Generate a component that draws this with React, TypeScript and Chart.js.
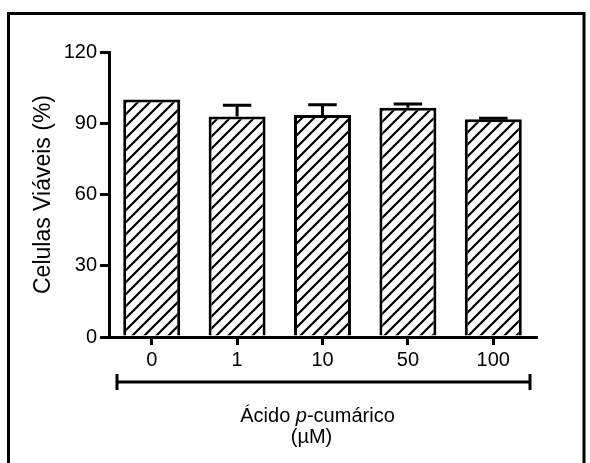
import { useEffect, useRef } from 'react';
import { Chart, registerables } from 'chart.js';

Chart.register(...registerables);

// ---- data ----
const categories = ['0', '1', '10', '50', '100'];
const viability = [100, 92.8, 93.5, 96.5, 91.7];
const sem = [0, 4.8, 4.3, 1.6, 0.4];
const yMin = 0;
const yMax = 120;
const yStep = 30;
const yAxisTitle = 'Celulas Viáveis (%)';
const xTitleParts = [
  { text: 'Ácido ', italic: false },
  { text: 'p', italic: true },
  { text: '-cumárico', italic: false },
];
const xTitleUnit = '(µM)';

const FONT = '"Liberation Sans", Arial, Helvetica, sans-serif';

function makeHatch(): CanvasPattern | string {
  const c = document.createElement('canvas');
  const s = 12;
  c.width = s;
  c.height = s;
  const g = c.getContext('2d');
  if (!g) return '#fff';
  g.fillStyle = '#fff';
  g.fillRect(0, 0, s, s);
  g.strokeStyle = '#000';
  g.lineWidth = 2.2;
  g.beginPath();
  g.moveTo(0, s);
  g.lineTo(s, 0);
  g.moveTo(-s / 2, s / 2);
  g.lineTo(s / 2, -s / 2);
  g.moveTo(s / 2, s * 1.5);
  g.lineTo(s * 1.5, s / 2);
  g.stroke();
  return g.createPattern(c, 'repeat') || '#fff';
}

const decorPlugin = {
  id: 'decor',
  afterDatasetsDraw(chart: any) {
    const ctx = chart.ctx;
    const meta = chart.getDatasetMeta(0);
    const ys = chart.scales.y;
    ctx.save();
    ctx.strokeStyle = '#000';
    ctx.lineWidth = 3;
    meta.data.forEach((bar: any, i: number) => {
      if (!sem[i]) return;
      const top = ys.getPixelForValue(viability[i] + sem[i]);
      const half = bar.width / 4;
      ctx.beginPath();
      ctx.moveTo(bar.x, bar.y);
      ctx.lineTo(bar.x, top);
      ctx.moveTo(bar.x - half, top);
      ctx.lineTo(bar.x + half, top);
      ctx.stroke();
    });
    ctx.restore();
  },
  afterDraw(chart: any) {
    const ctx = chart.ctx;
    const area = chart.chartArea;
    ctx.save();
    // frame
    ctx.strokeStyle = '#000';
    ctx.lineWidth = 3;
    ctx.beginPath();
    ctx.moveTo(8.5, 470);
    ctx.lineTo(8.5, 13.5);
    ctx.lineTo(584, 13.5);
    ctx.lineTo(584, 470);
    ctx.stroke();

    // bracket
    const bl = area.left + 8;
    const br = area.right - 6;
    const by = area.bottom + 45;
    ctx.beginPath();
    ctx.moveTo(bl, by);
    ctx.lineTo(br, by);
    ctx.moveTo(bl, by - 8);
    ctx.lineTo(bl, by + 8);
    ctx.moveTo(br, by - 8);
    ctx.lineTo(br, by + 8);
    ctx.stroke();

    // x title
    ctx.fillStyle = '#000';
    ctx.textBaseline = 'alphabetic';
    ctx.textAlign = 'left';
    const size = 20;
    const fonts = xTitleParts.map((p) => (p.italic ? 'italic ' : '') + size + 'px ' + FONT);
    let total = 0;
    const widths = xTitleParts.map((p, i) => {
      ctx.font = fonts[i];
      const w = ctx.measureText(p.text).width;
      total += w;
      return w;
    });
    const cx = (area.left + area.right) / 2 - 5;
    let x = cx - total / 2;
    const y1 = area.bottom + 85;
    xTitleParts.forEach((p, i) => {
      ctx.font = fonts[i];
      ctx.fillText(p.text, x, y1);
      x += widths[i];
    });
    ctx.font = size + 'px ' + FONT;
    ctx.textAlign = 'center';
    ctx.fillText(xTitleUnit, cx - 6, area.bottom + 106);
    ctx.restore();
  },
};

export default function App() {
  const ref = useRef<HTMLCanvasElement | null>(null);

  useEffect(() => {
    if (!ref.current) return;
    const hatch = makeHatch();
    const chart = new Chart(ref.current, {
      type: 'bar',
      data: {
        labels: categories,
        datasets: [
          {
            data: viability,
            backgroundColor: hatch as any,
            borderColor: '#000',
            borderWidth: 3,
            borderSkipped: 'bottom',
            barPercentage: 0.667,
            categoryPercentage: 1,
          },
        ],
      },
      options: {
        responsive: false,
        animation: false,
        layout: { padding: { left: 0, top: 52, right: 54, bottom: 0 } },
        plugins: {
          legend: { display: false },
          tooltip: { enabled: false },
        },
        scales: {
          x: {
            offset: true,
            grid: {
              offset: false,
              drawOnChartArea: false,
              drawTicks: true,
              tickLength: 8,
              tickWidth: 3,
              tickColor: '#000',
              lineWidth: 3,
              color: '#000',
            },
            border: { display: true, color: '#000', width: 3 },
            ticks: {
              color: '#000',
              font: { family: FONT, size: 20 },
              padding: 3,
              maxRotation: 0,
            },
            afterFit(scale: any) {
              scale.height = 126;
            },
          },
          y: {
            min: yMin,
            max: yMax,
            grid: {
              drawOnChartArea: false,
              drawTicks: true,
              tickLength: 9,
              tickWidth: 3,
              tickColor: '#000',
              lineWidth: 3,
              color: '#000',
            },
            border: { display: true, color: '#000', width: 3 },
            ticks: {
              stepSize: yStep,
              color: '#000',
              font: { family: FONT, size: 20 },
              padding: 3,
            },
            title: {
              display: true,
              text: yAxisTitle,
              color: '#000',
              font: { family: FONT, size: 23 },
              padding: { top: 29.5, bottom: 0 },
            },
            afterFit(scale: any) {
              scale.width = 109;
            },
          },
        },
      },
      plugins: [decorPlugin],
    });
    return () => chart.destroy();
  }, []);

  return (
    <div style={{ position: 'absolute', left: 0, top: 0, width: 590, height: 463, background: '#fff' }}>
      <canvas ref={ref} width={590} height={463} style={{ display: 'block', width: 590, height: 463 }} />
    </div>
  );
}
